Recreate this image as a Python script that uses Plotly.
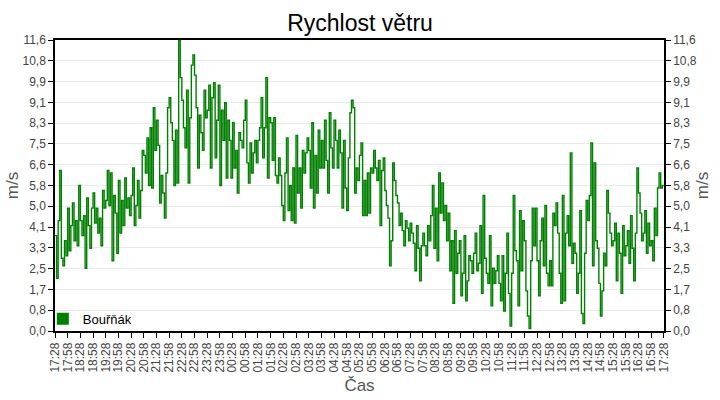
import numpy as np
import pandas as pd
import plotly.graph_objects as go

# wind speed readings (m/s), 17:28 -> 17:28 next day
WIND = [
    3.8, 2.1, 4.4, 6.4, 2.9, 2.6, 3.6, 3.0,
    4.9, 3.2, 4.2, 5.1, 3.6, 4.4, 3.4, 5.8,
    4.4, 3.8, 4.6, 2.5, 5.3, 4.2, 3.3, 4.9,
    5.5, 4.3, 4.9, 3.9, 4.5, 3.4, 5.6, 4.9,
    5.2, 6.4, 5.0, 6.3, 2.8, 5.4, 4.7, 3.1,
    6.0, 3.9, 5.2, 4.2, 6.1, 4.9, 5.3, 4.6,
    5.4, 6.5, 4.2, 5.0, 6.0, 4.5, 5.6, 7.2,
    7.0, 6.3, 7.7, 5.8, 8.1, 5.7, 8.9, 7.2,
    8.4, 7.4, 5.1, 6.2, 5.5, 4.5, 6.3, 8.9,
    9.3, 8.3, 7.6, 5.8, 8.0, 5.9, 11.6, 10.1,
    9.2, 8.1, 7.3, 9.6, 5.9, 8.5, 10.6, 11.0,
    10.2, 8.9, 6.5, 8.6, 7.9, 7.2, 9.6, 8.5,
    8.8, 9.8, 6.5, 9.3, 9.9, 6.9, 8.4, 9.8,
    5.8, 8.8, 7.6, 9.1, 6.1, 8.4, 7.6, 6.1,
    8.3, 6.5, 7.2, 5.5, 7.9, 7.6, 7.3, 8.4,
    9.2, 6.7, 5.9, 7.5, 6.3, 7.1, 7.6, 6.7,
    7.6, 8.1, 9.3, 6.9, 8.1, 10.1, 6.1, 8.5,
    8.3, 6.8, 8.5, 6.2, 5.9, 6.9, 6.2, 5.0,
    4.4, 6.3, 7.7, 4.8, 5.8, 4.4, 6.5, 4.3,
    7.8, 5.5, 6.5, 4.9, 7.2, 6.3, 7.1, 7.7,
    7.2, 5.7, 8.3, 4.9, 7.0, 5.5, 8.0, 6.5,
    7.6, 6.5, 8.4, 6.8, 5.5, 8.7, 7.3, 6.5,
    8.4, 7.6, 6.5, 8.0, 7.1, 4.9, 7.6, 5.7,
    4.8, 6.9, 8.7, 9.2, 8.9, 5.5, 6.5, 6.0,
    7.0, 7.5, 4.6, 6.0, 4.6, 6.3, 4.7, 6.5,
    6.3, 7.2, 6.5, 6.0, 6.8, 4.2, 6.4, 6.9,
    5.6, 5.0, 4.5, 2.6, 3.6, 6.7, 6.0, 5.4,
    5.1, 4.2, 4.7, 4.0, 3.4, 4.4, 4.1, 3.6,
    4.3, 3.9, 3.5, 2.4, 4.2, 3.3, 2.0, 3.4,
    3.9, 3.4, 3.0, 4.2, 3.6, 4.6, 5.8, 3.3,
    4.9, 2.8, 6.3, 4.7, 5.9, 4.4, 5.0, 3.6,
    4.7, 2.4, 3.6, 1.1, 4.0, 2.3, 3.1, 3.6,
    1.4, 2.3, 3.8, 1.2, 2.0, 3.0, 2.8, 2.3,
    3.1, 3.9, 2.4, 2.7, 4.2, 1.5, 5.4, 2.9,
    2.3, 1.9, 3.8, 1.0, 2.5, 1.9, 2.4, 3.0,
    1.9, 1.2, 3.0, 0.8, 2.3, 3.9, 1.5, 0.2,
    2.3, 5.4, 3.2, 2.8, 1.0, 4.8, 2.4, 4.4,
    3.6, 1.6, 0.6, 0.1, 2.8, 4.9, 3.4, 4.9,
    2.8, 1.4, 3.6, 4.5, 2.6, 5.0, 2.3, 1.8,
    2.8, 1.8, 4.7, 4.2, 5.1, 3.9, 2.3, 1.1,
    5.4, 1.2, 3.9, 4.6, 3.4, 7.1, 2.7, 3.5,
    3.1, 1.5, 2.3, 4.8, 0.7, 0.3, 3.1, 5.2,
    4.4, 5.4, 7.5, 2.6, 6.7, 3.6, 3.3, 1.9,
    0.6, 1.6, 3.1, 2.6, 5.6, 4.7, 3.9, 3.4,
    3.6, 4.3, 2.0, 3.9, 3.1, 1.5, 4.2, 3.0,
    3.4, 4.0, 2.7, 4.6, 3.3, 2.0, 3.9, 6.5,
    5.5, 4.7, 3.6, 3.9, 4.8, 3.1, 4.3, 3.4,
    3.6, 2.8, 4.9, 3.8, 5.7, 6.3, 5.7, 5.8,
    5.8,
]

START = "2024-05-01 17:28"
END = "2024-05-02 17:28"
SERIES_NAME = "Bouřňák"
Y_TICK_LABELS = ["0,0", "0,8", "1,7", "2,5", "3,3", "4,1", "5,0", "5,8",
                 "6,6", "7,5", "8,3", "9,1", "9,9", "10,8", "11,6"]
Y_MAX = 11.6

GREEN = "#008000"
FONT = "Liberation Sans, Arial"
TICK_FONT = dict(family=FONT, size=12, color="#444444")
TITLE_FONT = dict(family=FONT, size=17, color="#555555")

times = pd.date_range(START, END, periods=len(WIND))
y_ticks = np.linspace(0, Y_MAX, len(Y_TICK_LABELS))
# nudge the right end a few seconds so the closing 17:28 tick is kept
x_range = [times[0], times[-1] + pd.Timedelta(seconds=20)]

fig = go.Figure()
fig.add_trace(go.Scatter(
    x=times, y=WIND, mode="lines", line=dict(color=GREEN, width=1.4, shape="hv"),
    showlegend=False, hoverinfo="skip",
))
# invisible copy so the right-hand axis gets drawn
fig.add_trace(go.Scatter(
    x=times, y=WIND, mode="lines", line=dict(color="rgba(0,0,0,0)", width=0),
    yaxis="y2", showlegend=False, hoverinfo="skip",
))
# legend entry with a square swatch
fig.add_trace(go.Scatter(
    x=[None], y=[None], mode="markers", name=SERIES_NAME,
    marker=dict(symbol="square", size=12, color=GREEN),
))

yaxis_common = dict(
    range=[0, Y_MAX], tickvals=y_ticks, ticktext=Y_TICK_LABELS,
    ticks="outside", ticklen=5, tickcolor="#000000", tickfont=TICK_FONT,
    showline=True, linecolor="#000000", linewidth=1.5, zeroline=False,
    automargin=False,
    title=dict(text="m/s", font=TITLE_FONT, standoff=0),
)

fig.update_layout(
    width=720, height=400,
    margin=dict(l=55, r=56, t=40, b=69),
    paper_bgcolor="white", plot_bgcolor="white",
    title=dict(text="Rychlost větru", x=0.5, xanchor="center",
               y=1 - 23 / 400, yanchor="middle", yref="container",
               font=dict(family=FONT, size=23, color="#000000")),
    xaxis=dict(
        range=x_range, type="date",
        tick0=times[0], dtick=30 * 60 * 1000, tickformat="%H:%M", tickangle=-90,
        ticks="outside", ticklen=5, tickcolor="#000000", tickfont=TICK_FONT,
        showgrid=False, showline=True, mirror=True, linecolor="#000000", linewidth=1.5,
        automargin=False,
        title=dict(text="Čas", font=TITLE_FONT, standoff=8),
    ),
    yaxis=dict(showgrid=True, gridcolor="#ebebeb", gridwidth=1, **yaxis_common),
    yaxis2=dict(overlaying="y", side="right", showgrid=False, **yaxis_common),
    legend=dict(x=-0.02, y=-0.01, xanchor="left", yanchor="bottom",
                bgcolor="rgba(0,0,0,0)", font=dict(family=FONT, size=13, color="#000000")),
    showlegend=True,
)

# drop the page's default body margin so the 720x400 figure fills the window
fig.write_html("out.html", config={"displayModeBar": False},
               post_script="document.body.style.margin = '0';")
